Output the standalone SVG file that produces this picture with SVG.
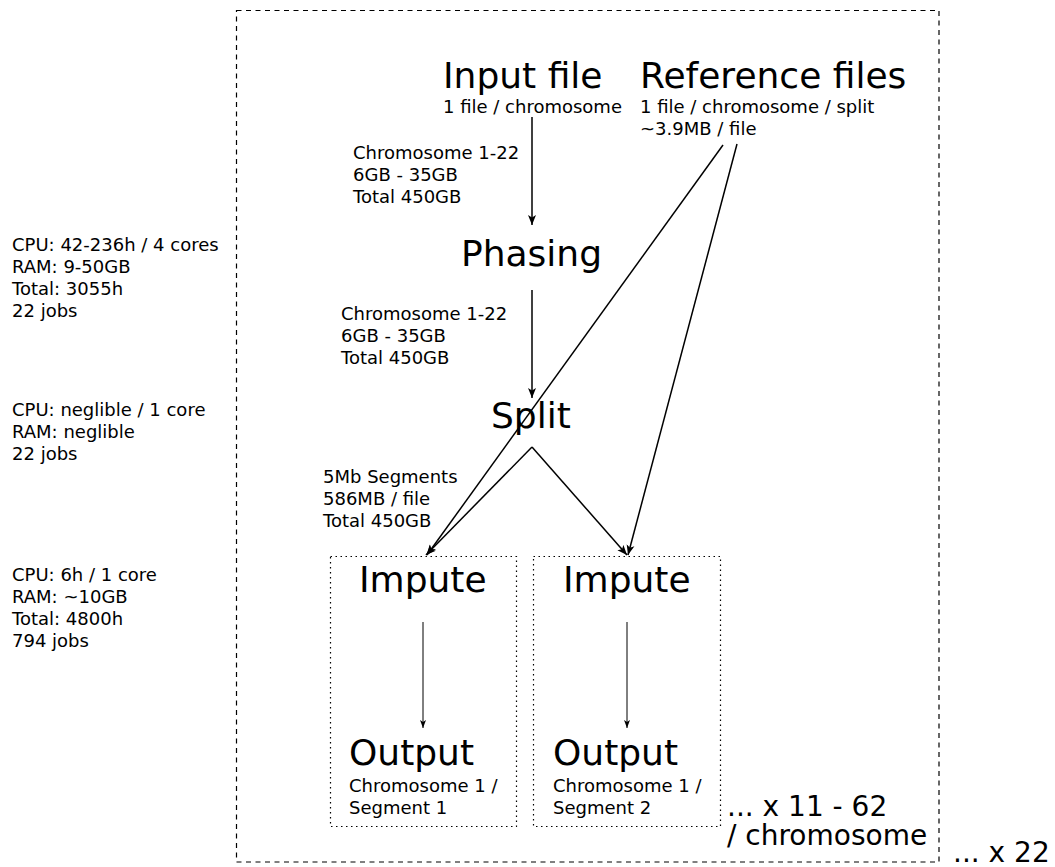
<svg xmlns="http://www.w3.org/2000/svg" width="1055" height="867" viewBox="0 0 1055 867">
<defs>
<marker id="ah" markerWidth="12" markerHeight="10" refX="10" refY="5" orient="auto" markerUnits="userSpaceOnUse">
<path d="M0,1 L10,5 L0,9 L2.5,5 z" fill="#000"/>
</marker>
<marker id="ahs" markerWidth="10" markerHeight="8" refX="8" refY="4" orient="auto" markerUnits="userSpaceOnUse">
<path d="M0,1 L8,4 L0,7 L2,4 z" fill="#000"/>
</marker>
</defs>
<style>
text{font-family:"DejaVu Sans","Liberation Sans",sans-serif;fill:#000}
.big{font-size:36px}
.sm{font-size:18px}
.sub{font-size:18px}
.mid{font-size:28px}
.frame{fill:none;stroke:#000;stroke-width:1.2;stroke-dasharray:5,4.5}
.box{fill:none;stroke:#000;stroke-width:1.2;stroke-dasharray:1.5,3.5}
.c{fill:none;stroke:#000;stroke-width:1.5;marker-end:url(#ah)}
.ci{fill:none;stroke:#000;stroke-width:1;marker-end:url(#ahs)}
</style>
<rect width="1055" height="867" fill="#fff"/>
<rect class="frame" x="236.5" y="10.5" width="702.5" height="851.5"/>
<g id="notes">
<text class="sm" x="12" y="251">CPU: 42-236h / 4 cores</text>
<text class="sm" x="12" y="273">RAM: 9-50GB</text>
<text class="sm" x="12" y="295">Total: 3055h</text>
<text class="sm" x="12" y="317">22 jobs</text>
<text class="sm" x="12" y="416">CPU: neglible / 1 core</text>
<text class="sm" x="12" y="438">RAM: neglible</text>
<text class="sm" x="12" y="460">22 jobs</text>
<text class="sm" x="12" y="581">CPU: 6h / 1 core</text>
<text class="sm" x="12" y="603">RAM: ~10GB</text>
<text class="sm" x="12" y="625">Total: 4800h</text>
<text class="sm" x="12" y="647">794 jobs</text>
</g>
<g id="input">
<text class="big" x="443" y="88">Input file</text>
<text class="sub" x="443" y="113">1 file / chromosome</text>
</g>
<g id="reference">
<text class="big" x="640" y="88">Reference files</text>
<text class="sub" x="640" y="113">1 file / chromosome / split</text>
<text class="sub" x="640" y="135">~3.9MB / file</text>
</g>
<g id="phasing">
<text class="big" x="461" y="266">Phasing</text>
</g>
<g id="split">
<text class="big" x="491" y="428">Split</text>
</g>
<g id="impute1">
<rect class="box" x="330.5" y="556.5" width="186" height="270"/>
<text class="big" x="359" y="592">Impute</text>
<text class="big" x="349" y="765">Output</text>
<text class="sub" x="349" y="792">Chromosome 1 /</text>
<text class="sub" x="349" y="814">Segment 1</text>
</g>
<g id="impute2">
<rect class="box" x="533.5" y="556.5" width="187" height="270"/>
<text class="big" x="563" y="592">Impute</text>
<text class="big" x="553" y="765">Output</text>
<text class="sub" x="553" y="792">Chromosome 1 /</text>
<text class="sub" x="553" y="814">Segment 2</text>
</g>
<g id="repeat">
<text class="mid" x="727" y="816">... x 11 - 62<tspan x="727" y="845">/ chromosome</tspan></text>
<text class="mid" x="953" y="862">... x 22</text>
</g>
<g id="connectors">
<text class="sm" x="353" y="159">Chromosome 1-22</text>
<text class="sm" x="353" y="181">6GB - 35GB</text>
<text class="sm" x="353" y="203">Total 450GB</text>
<line class="c" x1="532" y1="117" x2="532" y2="225"/>
<text class="sm" x="341" y="320">Chromosome 1-22</text>
<text class="sm" x="341" y="342">6GB - 35GB</text>
<text class="sm" x="341" y="364">Total 450GB</text>
<line class="c" x1="532" y1="290" x2="532" y2="398"/>
<text class="sm" x="323" y="483">5Mb Segments</text>
<text class="sm" x="323" y="505">586MB / file</text>
<text class="sm" x="323" y="527">Total 450GB</text>
<line class="c" x1="532" y1="447" x2="426" y2="555"/>
<line class="c" x1="532" y1="447" x2="627" y2="555"/>
<line class="c" x1="723" y1="145" x2="427" y2="555"/>
<line class="c" x1="737" y1="144" x2="628" y2="555"/>
<line class="ci" x1="423" y1="622" x2="423" y2="728"/>
<line class="ci" x1="627" y1="622" x2="627" y2="728"/>
</g>
</svg>
